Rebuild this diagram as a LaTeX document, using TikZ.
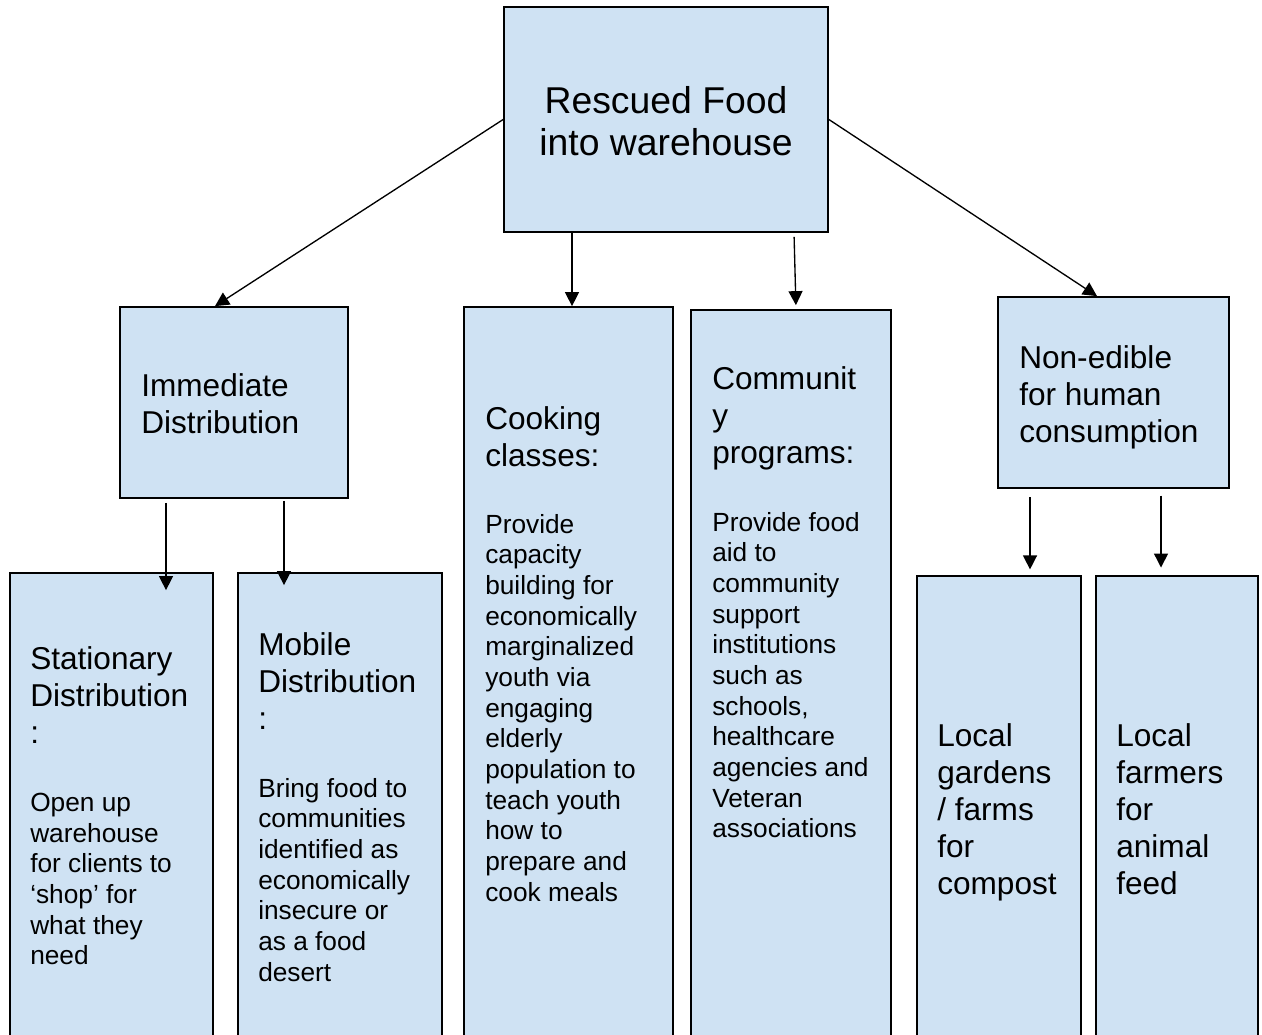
\documentclass[tikz,border=0pt]{standalone}
\usepackage{fontspec}
\setmainfont{Liberation Sans}
\usetikzlibrary{arrows.meta,fit}
\definecolor{boxblue}{HTML}{CFE2F3}

\begin{document}
\begin{tikzpicture}[x=0.75pt,y=-0.75pt,
  box/.style={draw,fill=boxblue,line width=1.3pt,inner sep=0pt},
  big/.style={inner sep=0pt,align=center,anchor=north,font=\fontsize{28}{31.5}\selectfont},
  title/.style={inner sep=0pt,align=left,anchor=north west,font=\fontsize{23.7}{27.75}\selectfont},
  body/.style={inner sep=0pt,align=left,anchor=north west,font=\fontsize{19.7}{23}\selectfont},
  arr/.style={-{Triangle[length=10.5pt,width=10.5pt]},line width=1pt}]
  \useasboundingbox (0,0) rectangle (1262,1034);
  \clip (0,0) rectangle (1262,1034);
  % boxes
  \node[box,fit={(504,7) (828,232)}] (top) {};
  \node[box,fit={(120,307) (348,498)}] (imm) {};
  \node[box,fit={(464,307) (673,1045)}] (cook) {};
  \node[box,fit={(691,310) (891,1045)}] (comm) {};
  \node[box,fit={(998,297) (1229,488)}] (non) {};
  \node[box,fit={(10,573) (213,1045)}] (stat) {};
  \node[box,fit={(238,573) (442,1045)}] (mob) {};
  \node[box,fit={(917,576) (1081,1045)}] (gard) {};
  \node[box,fit={(1096,576) (1258,1045)}] (farm) {};
  % texts
  \node[big] (topT) at (666,86) {Rescued Food\\into warehouse};
  \node[title] (immT) at (141,373) {Immediate\\Distribution};
  \node[title] (cookT) at (485,406) {Cooking\\classes:};
  \node[body] (cookB) at (485,514) {Provide\\capacity\\building for\\economically\\marginalized\\youth via\\engaging\\elderly\\population to\\teach youth\\how to\\prepare and\\cook meals};
  \node[title] (commT) at (712,366) {Communit\\y\\programs:};
  \node[body] (commB) at (712,512) {Provide food\\aid to\\community\\support\\institutions\\such as\\schools,\\healthcare\\agencies and\\Veteran\\associations};
  \node[title] (nonT) at (1019,345) {Non-edible\\for human\\consumption};
  \node[title] (statT) at (30,646) {Stationary\\Distribution\\:};
  \node[body] (statB) at (30,793) {Open up\\warehouse\\for clients to\\‘shop’ for\\what they\\need};
  \node[title] (mobT) at (258,632) {Mobile\\Distribution\\:};
  \node[body] (mobB) at (258,778) {Bring food to\\communities\\identified as\\economically\\insecure or\\as a food\\desert};
  \node[title] (gardT) at (937,723) {Local\\gardens\\/ farms\\for\\compost};
  \node[title] (farmT) at (1116,723) {Local\\farmers\\for\\animal\\feed};
  % arrows
  \draw[arr] (top.west) -- (215,0 |- imm.north);
  \draw[arr] (top.east) -- (1097,0 |- non.north);
  \draw[arr] (572,0 |- top.south) -- (572,0 |- cook.north);
  \draw[arr,shorten <=3pt,shorten >=3pt] (794,0 |- top.south) -- (796,0 |- comm.north);
  \draw[arr,shorten <=3pt,shorten >=-13.5pt] (166,0 |- imm.south) -- (166,0 |- stat.north);
  \draw[arr,shorten <=1.5pt,shorten >=-9.75pt] (284,0 |- imm.south) -- (284,0 |- mob.north);
  \draw[arr,shorten <=6.3pt,shorten >=4.3pt] (1030,0 |- non.south) -- (1030,0 |- gard.north);
  \draw[arr,shorten <=5pt,shorten >=5.7pt] (1161,0 |- non.south) -- (1161,0 |- farm.north);
\end{tikzpicture}
\end{document}
